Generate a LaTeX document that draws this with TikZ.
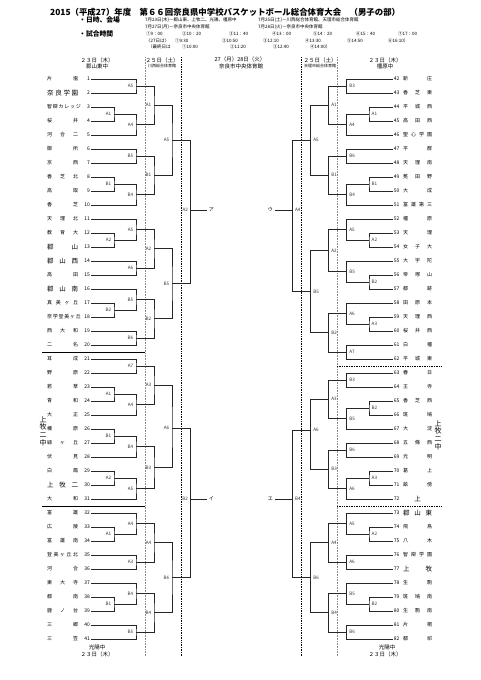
\documentclass[tikz,border=0pt]{standalone}
\usepackage{fontspec}
\setmainfont{Noto Sans CJK JP}
\usepackage{tikz}
\usetikzlibrary{calc}

% left bracket: id, label, x, y, upper child, lower child
\newcommand\lbk[6]{%
  \coordinate (#1) at (#3,#4);
  \draw[brk] (#5) -| (#1) |- (#6);
  \node[rnd, anchor=east] (#1-l) at ([xshift=-2.5pt]#1) {#2};}
% right bracket
\newcommand\rbk[6]{%
  \coordinate (#1) at (#3,#4);
  \draw[brk] (#5) -| (#1) |- (#6);
  \node[rnd, anchor=west] (#1-l) at ([xshift=2.5pt]#1) {#2};}

\begin{document}
\begin{tikzpicture}[
        x=1pt, y=-1pt,
        brk/.style = {draw=black!85, line width=0.6pt},
        rnd/.style = {font=\fontsize{4.6}{5}\selectfont, inner sep=0pt, text=black!80},
        num/.style = {font=\fontsize{5}{5}\selectfont, inner sep=1pt},
        teamn/.style = {font=\fontsize{5}{5}\selectfont, inner sep=0pt, anchor=west},
        teamb/.style = {font=\fontsize{6.5}{6.5}\selectfont, inner sep=0pt, anchor=west},
        hdr/.style = {font=\fontsize{5.5}{6}\selectfont, inner sep=0pt},
        sub/.style = {font=\fontsize{4}{4.5}\selectfont, inner sep=0pt},
        info/.style = {font=\fontsize{4.5}{5}\selectfont, inner sep=0pt, anchor=west},
        lead/.style = {font=\fontsize{6.8}{7}\selectfont\bfseries, inner sep=0pt, anchor=west},
        kana/.style = {font=\fontsize{5}{5}\selectfont, inner sep=2pt},
        vtext/.style = {font=\fontsize{7}{7.6}\selectfont, inner sep=0pt, align=center},
        gdot/.style = {draw=black!45, densely dotted, line width=0.6pt},
        kdot/.style = {draw=black, densely dotted, line width=0.7pt},
        sepl/.style = {draw=black, line width=0.7pt}
    ]
        \useasboundingbox (0,0) rectangle (481,680);

        % Title and schedule
        \node[anchor=west, font=\fontsize{8.4}{9}\selectfont\bfseries, inner sep=0pt] (title) at (50,12)
            {2015（平成27）年度　第６６回奈良県中学校バスケットボール総合体育大会　（男子の部）};
        \node[lead] (hd1) at (79,20) {・日時、会場};
        \node[info] (d1) at (145,20) {7月23日(木)－郡山東、上牧二、光陽、橿原中};
        \node[info] (d2) at (258,20) {7月25日(土)－川西総合体育館、天理市総合体育館};
        \node[info] (d3) at (145,27) {7月27日(月)－奈良市中央体育館};
        \node[info] (d4) at (258,27) {7月28日(火)－奈良市中央体育館};
        \node[lead] (hd2) at (79,34) {・試合時間};
        \foreach \x/\t [count=\k] in {146/①9：00, 182/②10：20, 229/③11：40, 272/④13：00, 313/⑤14：20, 356/⑥15：40, 398/⑦17：00}
            \node[info] (ta\k) at (\x,34) {\t};
        \foreach \x/\t [count=\k] in {146/〈27日は〉, 175/①9:30, 222/②10:50, 263/③12:10, 305/④13:30, 347/⑤14:50, 388/⑥16:10）}
            \node[info] (tb\k) at (\x,41) {\t};
        \foreach \x/\t [count=\k] in {148/（最終日は, 182/①10:00, 230/②11:20, 273/③12:40, 310/④14:00）}
            \node[info] (tc\k) at (\x,47) {\t};

        % Column headers
        \node[hdr] (h1) at (97,60) {２３日（木）};
        \node[hdr] (h1s) at (97,66) {郡山東中};
        \node[hdr] (h2) at (162,60) {２５日（土）};
        \node[sub] (h2s) at (162,66) {川西総合体育館};
        \node[hdr] (h3) at (240,59) {27（月）28日（火）};
        \node[hdr] (h3s) at (241,66) {奈良市中央体育館};
        \node[hdr] (h4) at (320,60) {２５日（土）};
        \node[sub] (h4s) at (320,66) {天理市総合体育館};
        \node[hdr] (h5) at (385,60) {２３日（木）};
        \node[hdr] (h5s) at (385,66) {橿原中};
        \node[hdr] (f1) at (97,647) {光陽中};
        \node[hdr] (f1d) at (97,654) {２３日（木）};
        \node[hdr] (f2) at (387,647) {光陽中};
        \node[hdr] (f2d) at (385,654) {２３日（木）};

        % Day separators
        \coordinate (g1t) at (145,57);   \coordinate (g1b) at (145,657);
        \coordinate (k1t) at (181.7,57); \coordinate (k1b) at (181.7,657);
        \coordinate (k2t) at (301.7,57); \coordinate (k2b) at (301.7,657);
        \coordinate (g2t) at (337.3,57); \coordinate (g2b) at (337.3,657);
        \draw[gdot] (g1t) -- (g1b);
        \draw[kdot] (k1t) -- (k1b);
        \draw[kdot] (k2t) -- (k2b);
        \draw[gdot] (g2t) -- (g2b);

        % Venue separators
        \coordinate (sa1) at (42,352);  \coordinate (sa2) at (145,352);
        \coordinate (sb1) at (42,506);  \coordinate (sb2) at (145,506);
        \coordinate (sc1) at (337,366); \coordinate (sc2) at (441,366);
        \coordinate (sd1) at (337,506); \coordinate (sd2) at (441,506);
        \draw[sepl] (sa1) -- (sa2);
        \draw[sepl] (sb1) -- (sb2);
        \draw[kdot] (sc1) -- (sc2);
        \draw[kdot] (sd1) -- (sd2);
        \node[vtext] (vl) at (43,431) {上\\牧\\二\\中};
        \node[vtext] (vr) at (438,435) {上\\牧\\二\\中};

        % Teams, left
        \foreach \i/\nm/\s in {1/片 塩/n, 2/奈 良 学 園/b, 3/智 辯 カ レ ッ ジ/n, 4/桜 井/n, 5/河 合 二/n,
                6/御 所/n, 7/京 西/n, 8/香 芝 北/n, 9/高 取/n, 10/香 芝/n,
                11/天 理 北/n, 12/教 育 大/n, 13/郡 山/b, 14/郡 山 西/b, 15/高 田/n,
                16/郡 山 南/b, 17/真 美 ヶ 丘/n, 18/奈 学 登 美 ヶ 丘/n, 19/西 大 和/n, 20/二 名/n,
                21/耳 成/n, 22/野 原/n, 23/若 草/n, 24/青 和/n, 25/大 正/n,
                26/榛 原/n, 27/緑 ヶ 丘/n, 28/伏 見/n, 29/白 鳳/n, 30/上 牧 二/b, 31/大 和/n,
                32/富 雄/n, 33/広 陵/n, 34/富 雄 南/n, 35/登 美 ヶ 丘 北/n, 36/河 合/n,
                37/東 大 寺/n, 38/都 南/n, 39/鹿 ノ 台/n, 40/三 郷/n, 41/三 笠/n} {
            \node[num, anchor=east] (t\i) at (91,{79+(\i-1)*14}) {\i};
            \node[team\s] (nm\i) at (47,{79+(\i-1)*14}) {\makebox[31pt][s]{\nm}};
        }

        % Teams, right
        \foreach \i/\nm/\s in {42/新 庄/n, 43/香 芝 東/n, 44/平 城 西/n, 45/高 田 西/n, 46/聖 心 学 園/n,
                47/平 群/n, 48/天 理 南/n, 49/菟 田 野/n, 50/大 成/n, 51/富 雄 第 三/n,
                52/橿 原/n, 53/天 理/n, 54/女 子 大/n, 55/大 宇 陀/n, 56/帝 塚 山/n,
                57/都 跡/n, 58/田 原 本/n, 59/天 理 西/n, 60/桜 井 西/n, 61/白 橿/n, 62/平 城 東/n,
                63/春 日/n, 64/王 寺/n, 65/香 芝 西/n, 66/斑 鳩/n, 67/大 淀/n,
                68/五 條 西/n, 69/光 明/n, 70/葛 上/n, 71/畝 傍/n, 72/\hfil 上\hfil/b,
                73/郡 山 東/b, 74/飛 鳥/n, 75/八 木/n, 76/智 辯 学 園/n, 77/上 牧/b,
                78/生 駒/n, 79/斑 鳩 南/n, 80/生 駒 南/n, 81/片 桐/n, 82/都 祁/n} {
            \node[num, anchor=west] (t\i) at (392.7,{79+(\i-42)*14}) {\i};
            \node[team\s] (nm\i) at (403,{79+(\i-42)*14}) {\makebox[29pt][s]{\nm}};
        }

        % Left, block 1
        \lbk{LaA5}{A5}{136}{86}{t1.east}{t2.east}
        \lbk{LaA1i}{A1}{114}{114}{t3.east}{t4.east}
        \lbk{LaA4}{A4}{136}{124.5}{LaA1i}{t5.east}
        \lbk{LaB5}{B5}{136}{156}{t6.east}{t7.east}
        \lbk{LaB1i}{B1}{114}{184}{t8.east}{t9.east}
        \lbk{LaB4}{B4}{136}{194.5}{LaB1i}{t10.east}
        \lbk{LaA1}{A1}{154}{105.25}{LaA5}{LaA4}
        \lbk{LaB1}{B1}{154}{175.25}{LaB5}{LaB4}
        \lbk{LaA5o}{A5}{172}{140.25}{LaA1}{LaB1}
        % Left, block 2
        \lbk{LbA2i}{A2}{114}{240}{t12.east}{t13.east}
        \lbk{LbA5}{A5}{136}{229.5}{t11.east}{LbA2i}
        \lbk{LbA6}{A6}{136}{268}{t14.east}{t15.east}
        \lbk{LbB2i}{B2}{114}{310}{t17.east}{t18.east}
        \lbk{LbB5}{B5}{136}{299.5}{t16.east}{LbB2i}
        \lbk{LbB6}{B6}{136}{338}{t19.east}{t20.east}
        \lbk{LbA2}{A2}{154}{248.75}{LbA5}{LbA6}
        \lbk{LbB2}{B2}{154}{318.75}{LbB5}{LbB6}
        \lbk{LbB5o}{B5}{172}{283.75}{LbA2}{LbB2}
        \lbk{LA2}{A2}{190.7}{210}{LaA5o}{LbB5o}
        % Left, block 3
        \lbk{LcA7}{A7}{136}{366}{t21.east}{t22.east}
        \lbk{LcA1i}{A1}{114}{394}{t23.east}{t24.east}
        \lbk{LcA4}{A4}{136}{404.5}{LcA1i}{t25.east}
        \lbk{LcA3}{A3}{154}{385.25}{LcA7}{LcA4}
        \lbk{LcB1i}{B1}{114}{436}{t26.east}{t27.east}
        \lbk{LcB4}{B4}{136}{446.5}{LcB1i}{t28.east}
        \lbk{LcA2i}{A2}{114}{478}{t29.east}{t30.east}
        \lbk{LcA5}{A5}{136}{488.5}{LcA2i}{t31.east}
        \lbk{LcB3}{B3}{154}{467.5}{LcB4}{LcA5}
        \lbk{LcA6}{A6}{172}{428}{LcA3}{LcB3}
        % Left, block 4
        \lbk{LdA1i}{A1}{114}{534}{t33.east}{t34.east}
        \lbk{LdA4}{A4}{136}{523.5}{t32.east}{LdA1i}
        \lbk{LdA3}{A3}{136}{562}{t35.east}{t36.east}
        \lbk{LdA4o}{A4}{154}{542.75}{LdA4}{LdA3}
        \lbk{LdB1i}{B1}{114}{604}{t38.east}{t39.east}
        \lbk{LdB4}{B4}{136}{593.5}{t37.east}{LdB1i}
        \lbk{LdB5}{B5}{136}{632}{t40.east}{t41.east}
        \lbk{LdB4o}{B4}{154}{612.75}{LdB4}{LdB5}
        \lbk{LdB6}{B6}{172}{577.75}{LdA4o}{LdB4o}
        \lbk{LB2}{B2}{190.7}{499}{LcA6}{LdB6}

        % Right, block 1
        \rbk{RaB3}{B3}{346.7}{86}{t42.west}{t43.west}
        \rbk{RaA1i}{A1}{369}{114}{t44.west}{t45.west}
        \rbk{RaA4}{A4}{346.7}{124.5}{RaA1i}{t46.west}
        \rbk{RaA1}{A1}{328.7}{105.25}{RaB3}{RaA4}
        \rbk{RaB6}{B6}{346.7}{156}{t47.west}{t48.west}
        \rbk{RaB1i}{B1}{369}{184}{t49.west}{t50.west}
        \rbk{RaB4}{B4}{346.7}{194.5}{RaB1i}{t51.west}
        \rbk{RaB1}{B1}{328.7}{175.25}{RaB6}{RaB4}
        \rbk{RaA5}{A5}{310.7}{140.25}{RaA1}{RaB1}
        % Right, block 2
        \rbk{RbA2i}{A2}{369}{240}{t53.west}{t54.west}
        \rbk{RbA5}{A5}{346.7}{229.5}{t52.west}{RbA2i}
        \rbk{RbB2i}{B2}{369}{282}{t56.west}{t57.west}
        \rbk{RbB5}{B5}{346.7}{271.5}{t55.west}{RbB2i}
        \rbk{RbA2}{A2}{328.7}{250.5}{RbA5}{RbB5}
        \rbk{RbA3i}{A3}{369}{324}{t59.west}{t60.west}
        \rbk{RbA6}{A6}{346.7}{313.5}{t58.west}{RbA3i}
        \rbk{RbA7}{A7}{346.7}{352}{t61.west}{t62.west}
        \rbk{RbB2}{B2}{328.7}{332.75}{RbA6}{RbA7}
        \rbk{RbB5o}{B5}{310.7}{291.6}{RbA2}{RbB2}
        \rbk{RA4}{A4}{292.3}{210}{RaA5}{RbB5o}
        % Right, block 3
        \rbk{RcB3}{B3}{346.7}{380}{t63.west}{t64.west}
        \rbk{RcB2i}{B2}{369}{408}{t65.west}{t66.west}
        \rbk{RcB5}{B5}{346.7}{418.5}{RcB2i}{t67.west}
        \rbk{RcA3}{A3}{328.7}{399.25}{RcB3}{RcB5}
        \rbk{RcB6}{B6}{346.7}{450}{t68.west}{t69.west}
        \rbk{RcA3i}{A3}{369}{478}{t70.west}{t71.west}
        \rbk{RcA6}{A6}{346.7}{488.5}{RcA3i}{t72.west}
        \rbk{RcB3o}{B3}{328.7}{469.25}{RcB6}{RcA6}
        \rbk{RcA6o}{A6}{310.7}{430}{RcA3}{RcB3o}
        % Right, block 4
        \rbk{RdA2i}{A2}{369}{534}{t74.west}{t75.west}
        \rbk{RdA5}{A5}{346.7}{523.5}{t73.west}{RdA2i}
        \rbk{RdA6}{A6}{346.7}{562}{t76.west}{t77.west}
        \rbk{RdA4}{A4}{328.7}{542.75}{RdA5}{RdA6}
        \rbk{RdB2i}{B2}{369}{604}{t79.west}{t80.west}
        \rbk{RdB5}{B5}{346.7}{593.5}{t78.west}{RdB2i}
        \rbk{RdB6}{B6}{346.7}{632}{t81.west}{t82.west}
        \rbk{RdB4}{B4}{328.7}{612.75}{RdB5}{RdB6}
        \rbk{RdB6o}{B6}{310.7}{577.75}{RdA4}{RdB4}
        \rbk{RB4}{B4}{292.3}{499}{RcA6o}{RdB6o}

        % Semi-final slots
        \node[kana, anchor=west] (kA) at (206.7,210) {ア};
        \node[kana, anchor=west] (kI) at (206.7,499) {イ};
        \node[kana, anchor=east] (kU) at (275,210) {ウ};
        \node[kana, anchor=east] (kE) at (275,499) {エ};
        \draw[brk] (LA2) -- (kA.west);
        \draw[brk] (LB2) -- (kI.west);
        \draw[brk] (RA4) -- (kU.east);
        \draw[brk] (RB4) -- (kE.east);

    \end{tikzpicture}
\end{document}
